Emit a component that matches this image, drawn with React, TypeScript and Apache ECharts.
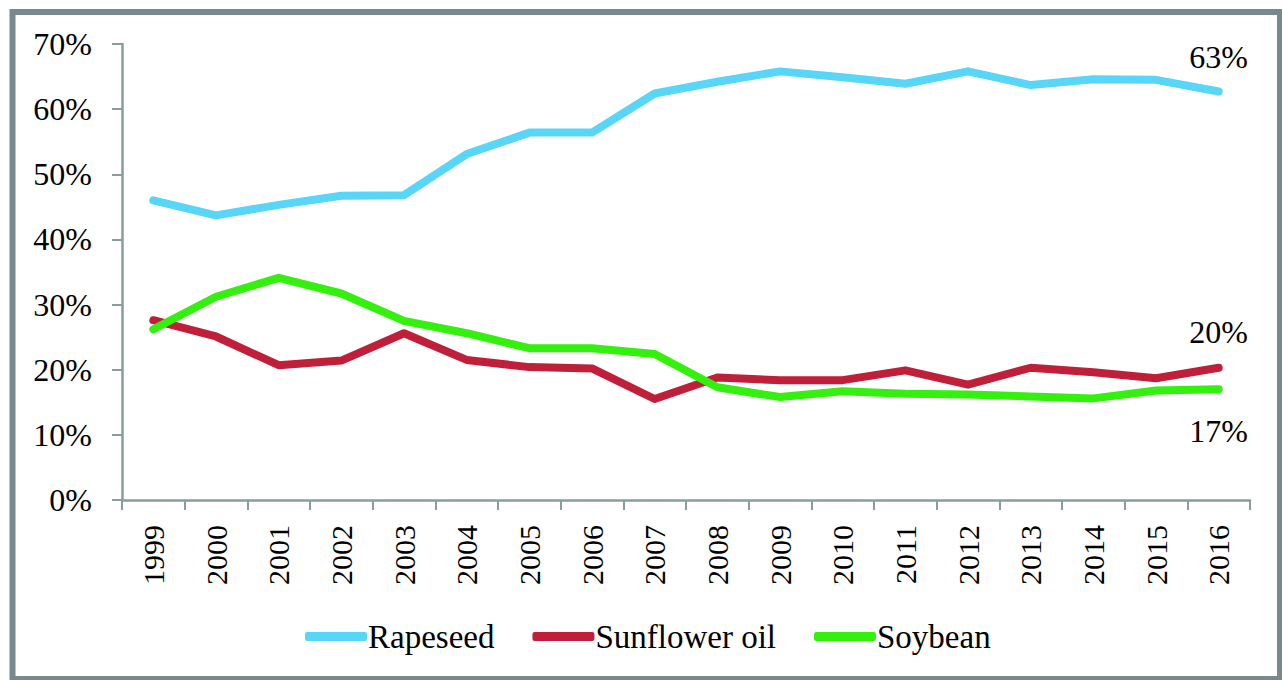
import React, { useEffect, useRef } from "react";
import * as echarts from "echarts";

const years = ["1999","2000","2001","2002","2003","2004","2005","2006","2007","2008","2009","2010","2011","2012","2013","2014","2015","2016"];
const rapeseed = [46.0, 43.7, 45.3, 46.7, 46.8, 53.1, 56.4, 56.4, 62.4, 64.2, 65.8, 64.9, 63.9, 65.8, 63.7, 64.6, 64.5, 62.7];
const sunflower = [27.6, 25.1, 20.7, 21.4, 25.6, 21.5, 20.4, 20.2, 15.5, 18.8, 18.4, 18.4, 19.9, 17.7, 20.3, 19.6, 18.7, 20.3];
const soybean = [26.2, 31.2, 34.1, 31.7, 27.5, 25.6, 23.3, 23.3, 22.4, 17.3, 15.8, 16.7, 16.3, 16.2, 15.9, 15.6, 16.8, 17.0];
const seriesNames = ["Rapeseed", "Sunflower oil", "Soybean"];
const endLabels = ["63%", "20%", "17%"];
const yTicks = { min: 0, max: 70, interval: 10 };

const colors = ["#57d6f7", "#c01f3a", "#33f00f"];
const FONT = "'Liberation Serif', 'Times New Roman', serif";
const AXIS_COLOR = "#8b9c9c";

export default function App() {
  const ref = useRef<HTMLDivElement>(null);
  useEffect(() => {
    if (!ref.current) return;
    const chart = echarts.init(ref.current, null, { renderer: "svg" });
    const datasets = [rapeseed, sunflower, soybean];
    const labelOffsets = [[0, -35], [0, -36], [0, 42]];
    chart.setOption({
      animation: false,
      backgroundColor: "#ffffff",
      grid: { left: 122, right: 32, top: 44, bottom: 180, containLabel: false },
      legend: {
        data: seriesNames.map((n) => ({ name: n })),
        top: 620,
        left: 305,
        padding: 0,
        icon: "roundRect",
        itemWidth: 62,
        itemHeight: 9,
        itemGap: 38,
        textStyle: { fontFamily: FONT, fontSize: 33, color: "#000", padding: [0, 0, 0, -4] },
      },
      graphic: [
        {
          type: "rect",
          shape: { x: 12.5, y: 12, width: 1267.5, height: 667 },
          style: { fill: "none", stroke: "#77898a", lineWidth: 6 },
          silent: true,
          z: 100,
        },
      ],
      xAxis: {
        type: "category",
        data: years,
        boundaryGap: true,
        axisLine: { show: true, lineStyle: { color: AXIS_COLOR, width: 2.5 } },
        axisTick: { show: true, alignWithLabel: false, length: 10, lineStyle: { color: AXIS_COLOR, width: 2 } },
        axisLabel: { rotate: 90, margin: 25, fontFamily: FONT, fontSize: 30, color: "#000", interval: 0 },
        splitLine: { show: false },
      },
      yAxis: {
        type: "value",
        min: yTicks.min,
        max: yTicks.max,
        interval: yTicks.interval,
        axisLine: { show: true, lineStyle: { color: AXIS_COLOR, width: 2.5 } },
        axisTick: { show: true, length: 10, lineStyle: { color: AXIS_COLOR, width: 2 } },
        axisLabel: { formatter: "{value}%", margin: 30, fontFamily: FONT, fontSize: 32, color: "#000" },
        splitLine: { show: false },
      },
      series: datasets.map((d, i) => ({
        name: seriesNames[i],
        type: "line",
        data: d,
        symbol: "none",
        color: colors[i],
        lineStyle: { width: 8, color: colors[i], cap: "round", join: "round" },
        markPoint: {
          symbol: "circle",
          symbolSize: 1,
          itemStyle: { color: "transparent" },
          label: {
            show: true,
            position: "inside",
            offset: labelOffsets[i],
            formatter: endLabels[i],
            fontFamily: FONT,
            fontSize: 32,
            color: "#000",
          },
          data: [{ coord: [d.length - 1, d[d.length - 1]] }],
        },
      })),
    });
    return () => chart.dispose();
  }, []);
  return (
    <div
      ref={ref}
      style={{ position: "absolute", left: 0, top: 0, width: 1282, height: 680 }}
    />
  );
}
